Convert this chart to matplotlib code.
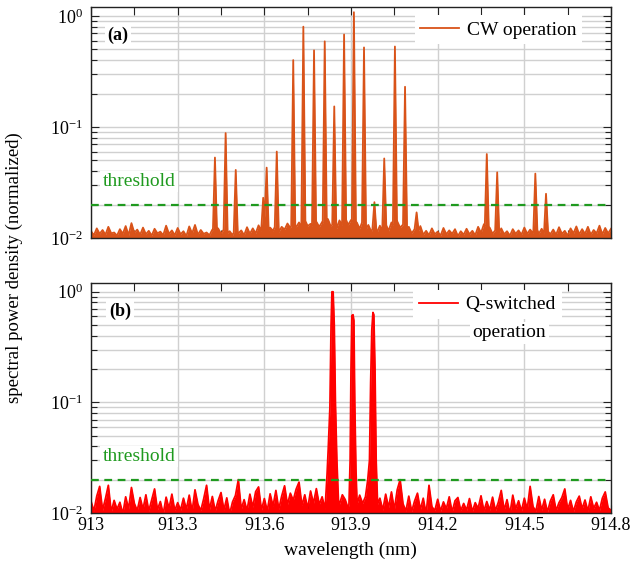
import numpy as np
import matplotlib.pyplot as plt
from matplotlib.ticker import FixedLocator, LogLocator, NullFormatter


plt.rcParams['font.family'] = ['Liberation Serif', 'DejaVu Serif']
plt.rcParams['mathtext.fontset'] = 'custom'
plt.rcParams['mathtext.rm'] = 'Liberation Serif'
plt.rcParams['font.size'] = 13

# noise floor, one value every 0.01 nm from 913.00 to 914.80 (x 1e-3)
NOISE_START = 913.0
NOISE_STEP = 0.01

CW_NOISE = """
11.5 10.6 12.2 10.9 11.8 10.7 12.6 11.0 11.2 10.5
12.0 10.9 12.8 10.6 13.6 11.1 11.9 10.7 12.4 10.8
11.6 10.5 12.1 11.0 11.4 10.6 12.9 10.9 11.7 10.6
12.3 10.8 11.5 10.4 12.7 11.0 13.1 10.7 11.8 10.9
11.2 10.6 11.9 11.0 12.2 10.9 12.0 10.8 11.5 10.6
12.1 11.0 11.7 10.6 12.5 10.9 12.2 11.0 13.0 11.4
12.8 11.3 12.4 11.6 13.2 11.3 12.6 11.9 13.5 12.3
14.2 12.5 13.8 12.0 14.6 12.8 13.4 12.1 14.0 12.6
13.9 12.3 14.8 12.7 13.6 12.2 14.4 12.9 15.2 13.1
14.5 12.6 13.8 12.1 14.2 11.8 13.1 11.4 12.8 11.2
12.9 11.0 13.4 11.6 13.8 12.2 14.1 12.4 13.2 11.5
12.6 11.0 12.0 10.8 12.8 10.7 11.6 10.6 12.2 10.8
11.4 10.5 12.3 10.8 11.7 10.9 12.0 10.4 11.5 10.7
12.1 10.8 11.6 10.6 12.6 11.1 13.3 11.2 12.4 10.9
11.8 10.6 12.2 10.8 11.5 10.5 12.0 10.9 11.7 10.7
12.4 10.9 11.9 11.0 12.8 10.9 12.1 10.6 11.6 10.8
11.9 10.7 12.5 10.9 11.6 10.5 12.2 11.0 12.7 10.8
12.0 10.9 12.6 10.7 11.8 11.0 12.9 10.8 12.3 11.0 12.1
"""

QS_NOISE = """
12.8 10.4 14.2 17.4 10.6 13.5 17.8 10.2 13.0 10.8
12.5 9.8 14.0 10.9 17.0 12.2 10.5 13.8 10.8 14.6
10.4 13.1 16.5 10.7 12.7 9.8 13.9 11.0 14.8 10.5
12.4 10.6 13.6 10.8 14.5 10.3 16.2 12.0 10.5 13.4
17.8 10.7 14.1 10.4 12.9 15.3 10.6 13.7 9.8 12.6
14.4 20.0 10.8 13.2 10.5 14.8 11.3 15.6 17.2 10.6
13.5 10.4 14.9 11.5 16.0 10.8 14.2 17.6 11.9 15.1
13.0 16.4 19.0 11.7 14.6 11.0 15.8 12.2 16.6 11.9
14.0 10.9 13.0 13.8 14.2 13.5 12.0 14.6 13.2 11.0
14.9 12.5 13.8 14.5 12.2 13.4 15.8 16.4 15.0 10.9
13.6 10.6 14.8 11.2 15.5 10.7 16.2 20.0 12.1 10.4
14.2 10.3 12.8 15.1 10.7 13.6 9.8 17.8 11.4 10.5
13.3 10.4 12.6 10.9 14.0 10.2 12.9 13.8 10.5 12.2
10.6 13.5 10.3 12.4 11.0 14.3 10.4 12.7 10.6 13.9
10.5 12.5 16.0 10.6 13.2 9.8 14.5 10.9 12.9 10.4
13.6 10.8 17.4 11.4 10.4 14.1 10.6 13.3 10.2 12.8
14.6 10.5 12.4 13.8 16.5 10.7 13.0 10.3 12.6 14.2
10.9 13.1 10.4 14.0 11.0 12.5 10.5 13.6 15.5 11.1 10.6
"""

# CW laser lines: centre wavelength (nm) and normalized peak height
CW_PEAK_WL = [913.429, 913.466, 913.501, 913.596, 913.608, 913.643, 913.700,
              913.735, 913.772, 913.809, 913.842, 913.876, 913.910, 913.945,
              913.981, 914.015, 914.052, 914.087, 914.127, 914.370, 914.406,
              914.538, 914.575]
CW_PEAK_VAL = [0.053, 0.088, 0.041, 0.023, 0.043, 0.060, 0.40,
               0.80, 0.49, 0.59, 0.153, 0.68, 1.08, 0.52,
               0.021, 0.052, 0.53, 0.23, 0.017, 0.057, 0.039,
               0.038, 0.025]
CW_HALF_WIDTH = 0.007

# Q-switched lines, outlines read point by point
QS_PEAK_WL = [
    [913.812, 913.817, 913.821, 913.827, 913.831, 913.834, 913.838, 913.842, 913.846, 913.851, 913.857],
    [913.893, 913.897, 913.900, 913.903, 913.907, 913.910, 913.913, 913.917, 913.921],
    [913.950, 913.958, 913.964, 913.968, 913.972, 913.976, 913.979, 913.983, 913.987, 913.992],
]
QS_PEAK_VAL = [
    [0.013, 0.022, 0.037, 0.09, 0.5, 1.0, 1.0, 0.5, 0.1, 0.03, 0.012],
    [0.012, 0.03, 0.2, 0.61, 0.62, 0.55, 0.1, 0.025, 0.012],
    [0.014, 0.02, 0.03, 0.15, 0.45, 0.65, 0.62, 0.2, 0.03, 0.012],
]

THRESHOLD = 0.02
X_TICKS = [913.0, 913.3, 913.6, 913.9, 914.2, 914.5, 914.8]
X_TICK_LABELS = ['913', '913.3', '913.6', '913.9', '914.2', '914.5', '914.8']
X_MINOR = [913.15, 913.45, 913.75, 914.05, 914.35, 914.65]

CW_COLOR = '#d95319'
QS_COLOR = '#ff0000'
GREEN = '#1f9a1f'


def parse_values(string):
    return np.array(list(map(float, string.split()))) * 1e-3


def splice(x, y, px, py):
    # replace the noise under one peak by the peak outline
    px, py = np.asarray(px), np.asarray(py)
    keep = (x < px[0]) | (x > px[-1])
    x = np.concatenate([x[keep], px])
    y = np.concatenate([y[keep], py])
    order = np.argsort(x)
    return x[order], y[order]


def cw_spectrum():
    y = parse_values(CW_NOISE)
    x = NOISE_START + NOISE_STEP * np.arange(len(y))
    for c, h in zip(CW_PEAK_WL, CW_PEAK_VAL):
        lo, hi = c - CW_HALF_WIDTH, c + CW_HALF_WIDTH
        x, y = splice(x, y, [lo, c, hi], [np.interp(lo, x, y), h, np.interp(hi, x, y)])
    return x, y


def qs_spectrum():
    y = parse_values(QS_NOISE)
    x = NOISE_START + NOISE_STEP * np.arange(len(y))
    for px, py in zip(QS_PEAK_WL, QS_PEAK_VAL):
        x, y = splice(x, y, px, py)
    return x, y


def draw_spectrum(ax, x, y, color, label):
    ax.fill_between(x, 0.005, y, color=color, lw=0, zorder=2)
    ax.plot(x, y, color=color, lw=1.3, label=label, zorder=2)


def style_axes(ax, show_xlabels):
    ax.set_yscale('log')
    ax.set_xlim(913.0, 914.8)
    ax.set_ylim(0.01, 1.2)
    ax.xaxis.set_major_locator(FixedLocator(X_TICKS))
    ax.xaxis.set_minor_locator(FixedLocator(X_MINOR))
    if show_xlabels:
        ax.set_xticklabels(X_TICK_LABELS)
    else:
        ax.set_xticklabels([])
    ax.yaxis.set_major_locator(LogLocator(base=10, numticks=10))
    ax.yaxis.set_minor_locator(LogLocator(base=10, subs=np.arange(2, 10), numticks=10))
    ax.yaxis.set_minor_formatter(NullFormatter())
    ax.tick_params(which='both', direction='in', top=True, right=True, colors='#222222',
                   labelcolor='black', labelsize=13)
    ax.tick_params(axis='x', which='both', length=6, width=0.8, pad=3)
    ax.tick_params(axis='y', which='major', length=6, width=0.8, pad=6)
    ax.tick_params(axis='y', which='minor', length=4, width=0.8)
    ax.grid(axis='x', which='major', color='#d0d0d0', lw=1.0)
    ax.grid(axis='y', which='both', color='#d0d0d0', lw=1.0)
    ax.set_axisbelow(True)
    for s in ax.spines.values():
        s.set_linewidth(1.0)
        s.set_color('#222222')
    ax.axhline(THRESHOLD, color=GREEN, ls=(0, (3.5, 2.5)), lw=1.6, zorder=3)
    ax.text(913.04, 0.0325, 'threshold', color=GREEN, fontsize=14, va='center', zorder=4,
            bbox=dict(facecolor='white', edgecolor='none', pad=1.5))


def main():
    fig = plt.figure(figsize=(6.32, 5.70), dpi=100)
    ax_a = fig.add_axes([0.144, 0.5825, 0.8228, 0.405])
    ax_b = fig.add_axes([0.144, 0.100, 0.8228, 0.4035])

    x, y = cw_spectrum()
    draw_spectrum(ax_a, x, y, CW_COLOR, 'CW operation')
    style_axes(ax_a, False)
    leg = ax_a.legend(loc='upper right', bbox_to_anchor=(0.945, 0.965), borderaxespad=0,
                      fontsize=14, frameon=True, framealpha=1, edgecolor='none',
                      fancybox=False, handletextpad=0.4, borderpad=0.3)
    leg.set_zorder(5)
    ax_a.text(0.052, 0.879, '(a)', transform=ax_a.transAxes, fontweight='bold', fontsize=13,
              va='center', ha='center', zorder=5,
              bbox=dict(facecolor='white', edgecolor='none', pad=2))

    x, y = qs_spectrum()
    draw_spectrum(ax_b, x, y, QS_COLOR, 'Q-switched')
    style_axes(ax_b, True)
    leg = ax_b.legend(loc='upper right', bbox_to_anchor=(0.905, 0.97), borderaxespad=0,
                      fontsize=14, frameon=True, framealpha=1, edgecolor='none',
                      fancybox=False, handletextpad=0.4, borderpad=0.3)
    leg.set_zorder(5)
    ax_b.text(0.804, 0.783, 'operation', transform=ax_b.transAxes, fontsize=14,
              va='center', ha='center', zorder=5,
              bbox=dict(facecolor='white', edgecolor='none', pad=2))
    ax_b.text(0.056, 0.875, '(b)', transform=ax_b.transAxes, fontweight='bold', fontsize=13,
              va='center', ha='center', zorder=5,
              bbox=dict(facecolor='white', edgecolor='none', pad=2))

    fig.text(0.022, 0.53, 'spectral power density (normalized)', rotation=90,
             va='center', ha='center', fontsize=13.5)
    fig.text(0.555, 0.035, 'wavelength (nm)', va='center', ha='center', fontsize=14)

    fig.savefig('out.png', dpi=100)


if __name__ == '__main__':
    main()
